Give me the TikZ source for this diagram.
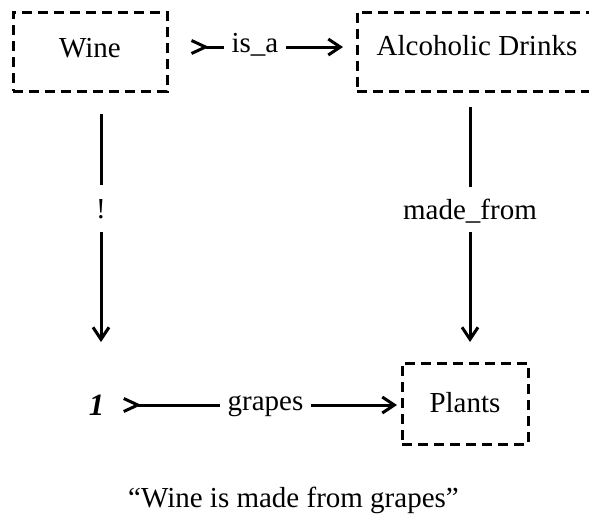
\documentclass[tikz,border=0pt]{standalone}
\usepackage{fontspec}
\setmainfont{Liberation Serif}
\usetikzlibrary{arrows.meta}
\begin{document}
\begin{tikzpicture}[x=1pt,y=-1pt,
  every node/.style={font=\fontsize{29}{34}\selectfont},
  box/.style={draw, line width=3pt, dash pattern=on 10pt off 6pt, inner sep=0pt, outer sep=0pt, text height=20pt},
  lbl/.style={inner xsep=8pt, inner ysep=0pt, outer sep=0pt, text height=10pt, text depth=0pt},
  vlbl/.style={inner sep=0pt, outer sep=0pt, text depth=0pt},
  conn/.style={line width=3pt},
  arr/.style={conn, -{Straight Barb[length=12pt,width=16pt]}},
  tl/.style={conn, {Straight Barb[reversed,length=14pt,width=13pt]}-}]
\useasboundingbox (0,0) rectangle (589,520);
% boxes
\node[box, minimum width=154pt, minimum height=79pt, text depth=9pt] (wine) at (90,51.5) {Wine};
\node[box, minimum width=240pt, minimum height=79pt, text depth=13pt] (alc) at (477,51.5) {Alcoholic Drinks};
\node[box, minimum width=126pt, minimum height=81pt, text depth=3pt] (plants) at (465,403.5) {Plants};
\node[inner sep=0pt, outer sep=0pt, text height=20pt, text depth=0pt, font=\fontsize{31}{36}\selectfont\bfseries\itshape] (one) at (96.5,405) {1};
% labels
\node[lbl] (isa) at (255,47) {is\_a};
\node[lbl] (grapes) at (265.5,405) {grapes};
\node[vlbl, minimum height=47pt] (bang) at (101,208.5) {!};
\node[vlbl, minimum height=45pt] (mf) at (470,209.5) {made\_from};
\node[anchor=base] (cap) at (293.5,507) {“Wine is made from grapes”};
% connectors
\draw[tl, shorten <=23pt] (wine.east |- isa.west) -- (isa.west);
\draw[arr, shorten >=14pt] (isa.east) -- (alc.west |- isa.east);
\draw[conn, shorten <=23pt] (wine.south -| bang.north) -- (bang.north);
\draw[arr, shorten >=53pt] (bang.south) -- (one.north -| bang.south);
\draw[conn, shorten <=16pt] (alc.south -| mf.north) -- (mf.north);
\draw[arr, shorten >=21pt] (mf.south) -- (plants.north -| mf.south);
\draw[tl, shorten <=18pt] (one.east) -- (grapes.west);
\draw[arr, shorten >=5pt] (grapes.east) -- (plants.west |- grapes.east);
\end{tikzpicture}
\end{document}
